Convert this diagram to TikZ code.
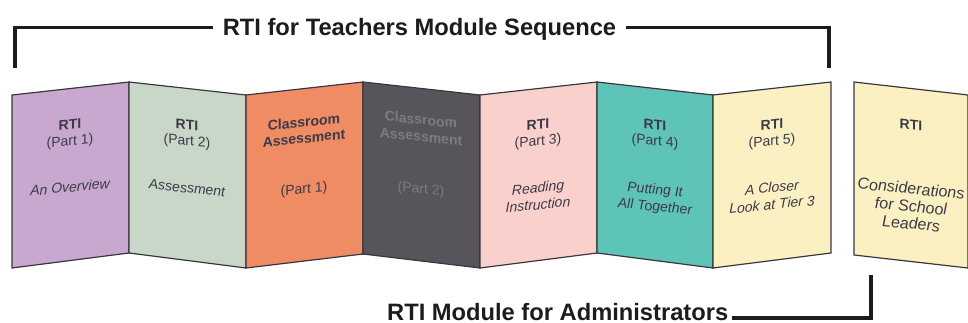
\documentclass[tikz,border=0pt]{standalone}
\usepackage{fontspec}
\setmainfont{Liberation Sans}
\usetikzlibrary{positioning}
\definecolor{RTILilac}{HTML}{C8A8CE}
\definecolor{RTISage}{HTML}{C9D7C9}
\definecolor{RTIOrange}{HTML}{F08C64}
\definecolor{RTIDark}{HTML}{58545B}
\definecolor{RTIPink}{HTML}{F9D0CC}
\definecolor{RTITeal}{HTML}{5FC4B8}
\definecolor{RTIYellow}{HTML}{FAF0C2}
\definecolor{RTIEdge}{HTML}{3A363C}
\definecolor{RTIInk}{HTML}{3C3A48}
\definecolor{RTIFaded}{HTML}{7E7A82}
\definecolor{RTIBlack}{HTML}{1C1C1C}

\begin{document}
\begin{tikzpicture}[
        x=1pt, y=-1pt,
        panel/.style={draw=RTIEdge, line width=1.2pt, line join=miter},
        rise/.style={yslant=0.1},
        fall/.style={yslant=-0.1},
        head/.style={align=center, inner sep=0pt, text=RTIInk,
                     font=\fontsize{14}{16}\selectfont},
        sub/.style={align=center, inner sep=0pt, text=RTIInk,
                    font=\fontsize{14}{17}\selectfont\itshape},
        title/.style={inner xsep=10pt, inner ysep=0pt, text height=17pt, text depth=0pt,
                      text=RTIBlack, font=\fontsize{23.7}{26}\selectfont\bfseries},
        bracket/.style={draw=RTIBlack, line width=3.6pt}
    ]
        \useasboundingbox (0,0) rectangle (968,323);

        % folded strip of teacher modules
        \filldraw[panel, fill=RTILilac]  (12,95)  -- (129,82) -- (129,253) -- (12,268)  -- cycle;
        \filldraw[panel, fill=RTISage]   (129,82) -- (246,95) -- (246,268) -- (129,253) -- cycle;
        \filldraw[panel, fill=RTIOrange] (246,95) -- (363,82) -- (363,254) -- (246,268) -- cycle;
        \filldraw[panel, fill=RTIDark]   (363,82) -- (480,95) -- (480,268) -- (363,254) -- cycle;
        \filldraw[panel, fill=RTIPink]   (480,95) -- (597,82) -- (597,253) -- (480,268) -- cycle;
        \filldraw[panel, fill=RTITeal]   (597,82) -- (713,95) -- (713,268) -- (597,253) -- cycle;
        \filldraw[panel, fill=RTIYellow] (713,95) -- (831,82) -- (831,253) -- (713,268) -- cycle;
        % administrator module
        \filldraw[panel, fill=RTIYellow] (854,82) -- (968,95) -- (968,268) -- (854,255) -- cycle;

        \node[head, rise] (p1head) at (70,134)  {\textbf{RTI}\\(Part 1)};
        \node[sub, rise]  (p1sub)  at (70,187)  {An Overview};
        \node[head, fall] (p2head) at (187,134) {\textbf{RTI}\\(Part 2)};
        \node[sub, fall]  (p2sub)  at (187,188) {Assessment};
        \node[head, rise, font=\fontsize{14}{16}\selectfont\bfseries]
                          (p3head) at (304,130) {Classroom\\Assessment};
        \node[head, rise] (p3sub)  at (304,190) {(Part 1)};
        \node[head, fall, text=RTIFaded, font=\fontsize{14}{17}\selectfont\bfseries]
                          (p4head) at (421,128) {Classroom\\Assessment};
        \node[head, fall, text=RTIFaded] (p4sub) at (421,190) {(Part 2)};
        \node[head, rise] (p5head) at (538,134) {\textbf{RTI}\\(Part 3)};
        \node[sub, rise]  (p5sub)  at (538,196) {Reading\\Instruction};
        \node[head, fall] (p6head) at (655,134) {\textbf{RTI}\\(Part 4)};
        \node[sub, fall]  (p6sub)  at (655,199) {Putting It\\All Together};
        \node[head, rise] (p7head) at (772,134) {\textbf{RTI}\\(Part 5)};
        \node[sub, rise]  (p7sub)  at (772,196) {A Closer\\Look at Tier 3};
        \node[head, fall, font=\fontsize{14}{15}\selectfont\bfseries]
                          (p8head) at (911,125) {RTI};
        \node[sub, fall, font=\fontsize{16}{17.5}\selectfont\itshape]
                          (p8sub)  at (911,206) {Considerations\\for School\\Leaders};

        % group labels with their brackets
        \node[title, anchor=base] (teachers) at (419.5,36) {RTI for Teachers Module Sequence};
        \coordinate (teachL) at (15,68);
        \coordinate (teachR) at (829,68);
        \draw[bracket] (teachL) |- (teachers.west);
        \draw[bracket] (teachers.east) -| (teachR);

        \node[title, anchor=base west, inner xsep=4pt] (admins) at (383,320) {RTI Module for Administrators};
        \coordinate (adminR) at (871,275);
        \draw[bracket] ([yshift=2pt]admins.base east) -| (adminR);
    \end{tikzpicture}
\end{document}
